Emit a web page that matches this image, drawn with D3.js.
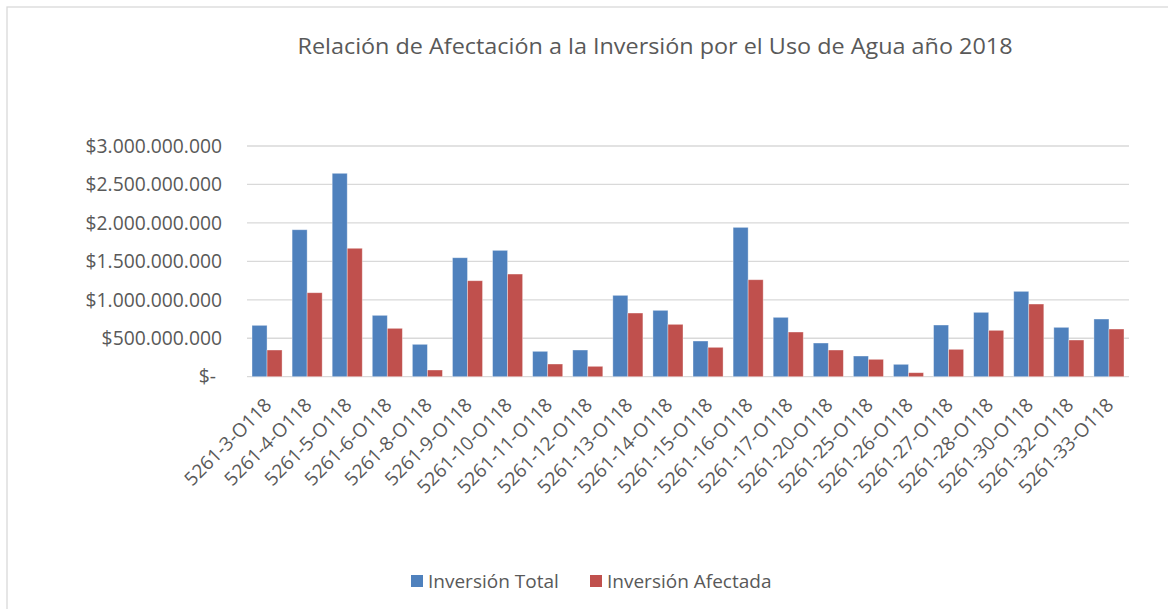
<!DOCTYPE html>
<html>
<head>
<meta charset="utf-8">
<script src="https://cdn.jsdelivr.net/npm/d3@7"></script>
<style>
  body { margin: 0; background: #fff; }
  svg { display: block; font-family: "Open Sans", sans-serif; }
</style>
</head>
<body>
<div id="chart"></div>
<script>
const categories = [
  '5261-3-O118', '5261-4-O118', '5261-5-O118', '5261-6-O118', '5261-8-O118',
  '5261-9-O118', '5261-10-O118', '5261-11-O118', '5261-12-O118', '5261-13-O118',
  '5261-14-O118', '5261-15-O118', '5261-16-O118', '5261-17-O118', '5261-20-O118',
  '5261-25-O118', '5261-26-O118', '5261-27-O118', '5261-28-O118', '5261-30-O118',
  '5261-32-O118', '5261-33-O118'
];
const inversionTotal = [
  668e6, 1911e6, 2645e6, 798e6, 421e6, 1547e6, 1643e6, 330e6, 347e6, 1058e6,
  863e6, 464e6, 1942e6, 772e6, 438e6, 269e6, 161e6, 672e6, 837e6, 1110e6,
  642e6, 750e6
];
const inversionAfectada = [
  347e6, 1092e6, 1670e6, 629e6, 87e6, 1248e6, 1335e6, 165e6, 135e6, 828e6,
  681e6, 382e6, 1261e6, 581e6, 347e6, 226e6, 52e6, 356e6, 603e6, 945e6,
  477e6, 620e6
];
const seriesNames = ['Inversión Total', 'Inversión Afectada'];
const yTicks = [0, 5e8, 1e9, 1.5e9, 2e9, 2.5e9, 3e9];
const title = 'Relación de Afectación a la Inversión por el Uso de Agua año 2018';

const width = 1168;
const height = 609;
const colors = ['#4F81BD', '#C0504D'];
const textColor = '#595959';

const plotArea = { left: 247, right: 1129, top: 146, bottom: 376.7 };

const svg = d3.select('#chart')
  .append('svg')
  .attr('width', width)
  .attr('height', height);

// chart border (cut off at right / bottom like the screenshot)
svg.append('rect')
  .attr('x', 7).attr('y', 7)
  .attr('width', width + 10).attr('height', height + 10)
  .attr('fill', 'none')
  .attr('stroke', '#d9d9d9')
  .attr('stroke-width', 1.3);

svg.append('text')
  .attr('x', 655)
  .attr('y', 54)
  .attr('text-anchor', 'middle')
  .attr('fill', textColor)
  .style('font-size', '21px')
  .attr('textLength', 715)
  .attr('lengthAdjust', 'spacingAndGlyphs')
  .text(title);

const x = d3.scaleBand()
  .domain(categories)
  .range([plotArea.left, plotArea.right])
  .paddingInner(0.25)
  .paddingOuter(0.125);

const xSub = d3.scaleBand()
  .domain([0, 1])
  .range([0, x.bandwidth()]);

const y = d3.scaleLinear()
  .domain([0, 3e9])
  .range([plotArea.bottom, plotArea.top]);

// gridlines
svg.append('g')
  .attr('class', 'grid')
  .selectAll('line')
  .data(yTicks)
  .join('line')
  .attr('x1', plotArea.left)
  .attr('x2', plotArea.right)
  .attr('y1', (d) => y(d))
  .attr('y2', (d) => y(d))
  .attr('stroke', '#d9d9d9')
  .attr('stroke-width', 1.3);

// y labels
const fmt = (d) => d === 0 ? '$-' : '$' + d3.format(',')(d).replace(/,/g, '.');
svg.append('g')
  .attr('class', 'y-labels')
  .selectAll('text')
  .data(yTicks)
  .join('text')
  .attr('x', (d) => d === 0 ? 216 : 222)
  .attr('y', (d) => y(d))
  .attr('dy', '0.35em')
  .attr('text-anchor', 'end')
  .attr('fill', textColor)
  .style('font-size', '19.3px')
  .text(fmt);

// bars
const seriesData = [inversionTotal, inversionAfectada];
const groups = svg.append('g')
  .attr('class', 'bars')
  .selectAll('g')
  .data(seriesData)
  .join('g')
  .attr('fill', (d, i) => colors[i]);

groups.selectAll('rect')
  .data((vals, si) => vals.map((v, ci) => ({ v, ci, si })))
  .join('rect')
  .attr('x', (d) => x(categories[d.ci]) + xSub(d.si))
  .attr('y', (d) => y(d.v))
  .attr('width', xSub.bandwidth())
  .attr('height', (d) => y(0) - y(d.v))
  .attr('stroke', '#ffffff')
  .attr('stroke-opacity', 0.45)
  .attr('stroke-width', 0.8);

// x labels rotated
svg.append('g')
  .attr('class', 'x-labels')
  .selectAll('text')
  .data(categories)
  .join('text')
  .attr('transform', (d) => `translate(${x(d) + x.bandwidth() / 2 + 1}, ${plotArea.bottom + 25}) rotate(-45)`)
  .attr('text-anchor', 'end')
  .attr('dy', '0.35em')
  .attr('fill', textColor)
  .style('font-size', '19px')
  .text((d) => d);

// legend
const legend = svg.append('g')
  .attr('class', 'legend')
  .selectAll('g')
  .data(seriesNames)
  .join('g')
  .attr('transform', (d, i) => `translate(${i === 0 ? 411 : 590}, 575)`);

legend.append('rect')
  .attr('width', 12)
  .attr('height', 12)
  .attr('fill', (d, i) => colors[i]);

legend.append('text')
  .attr('x', 17)
  .attr('y', 6)
  .attr('dy', '0.35em')
  .attr('fill', textColor)
  .style('font-size', '19px')
  .text((d) => d);
</script>
</body>
</html>
